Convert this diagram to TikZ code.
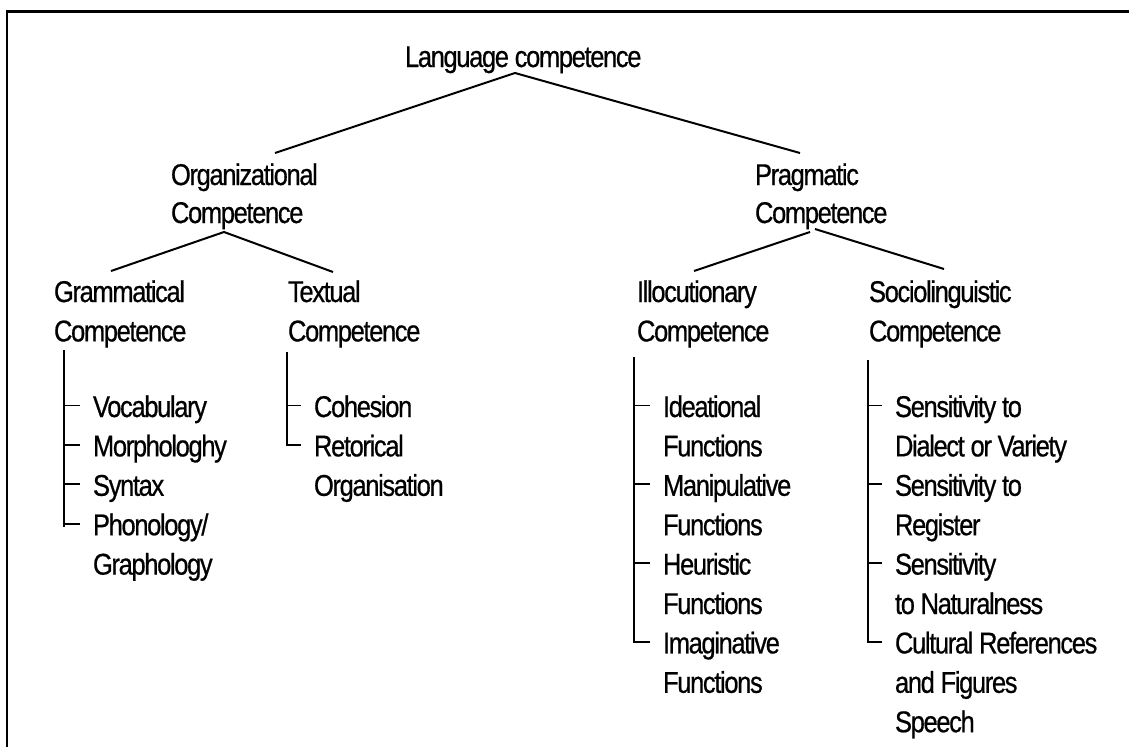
\documentclass[tikz,border=0pt]{standalone}
\usepackage{fontspec}
\setmainfont{Liberation Sans}[FakeStretch=0.85,LetterSpace=-4.5,FakeBold=0.6]
\begin{document}
\begin{tikzpicture}[x=1pt,y=-1pt,
  lbl/.style={anchor=base west, inner sep=0pt, outer sep=0pt, align=left, font=\fontsize{30}{39.4}\selectfont},
  hd/.style={lbl, font=\fontsize{30}{38}\selectfont},
  tree/.style={line width=2pt, black},
  brk/.style={line width=1.8pt, black},
  frame/.style={line width=2.2pt, black}]
\useasboundingbox (0,0) rectangle (1129,747);
\draw[frame] (7,747) -- (7,11.5) -- (1129,11.5);

% headings (anchor = baseline of the last line)
\node[lbl] (lang) at (405,67) {Language competence};
\node[hd] (org) at (171,223) {Organizational\\Competence};
\node[hd] (prag) at (755,223) {Pragmatic\\Competence};
\node[lbl] (gram) at (54,341.4) {Grammatical\\Competence};
\node[lbl] (text) at (288,341.4) {Textual\\Competence};
\node[lbl] (illo) at (637,341.4) {Illocutionary\\Competence};
\node[lbl] (socio) at (869,341.4) {Sociolinguistic\\Competence};

% tree connectors
\coordinate (langB) at (515,73);
\coordinate (orgT) at (275,153);
\coordinate (pragT) at (800,153);
\draw[tree] (orgT) -- (langB) -- (pragT);
\coordinate (orgB) at (224,232);
\coordinate (gramT) at (111,271);
\coordinate (textT) at (333,272);
\draw[tree] (gramT) -- (orgB) -- (textT);
\coordinate (pragBL) at (810,232);
\coordinate (pragBR) at (815,229);
\coordinate (illoT) at (694,271);
\coordinate (socioT) at (944,269);
\draw[tree] (illoT) -- (pragBL);
\draw[tree] (pragBR) -- (socioT);

% leaves (anchor = baseline of the last line)
\node[lbl] (voc) at (93,417) {Vocabulary};
\node[lbl] (mor) at (93,456.4) {Morphologhy};
\node[lbl] (syn) at (93,495.8) {Syntax};
\node[lbl] (pho) at (93,574.6) {Phonology/\\Graphology};

\node[lbl] (coh) at (314,417) {Cohesion};
\node[lbl] (ret) at (314,495.8) {Retorical\\Organisation};

\node[lbl] (ide) at (663,456.4) {Ideational\\Functions};
\node[lbl] (man) at (663,535.2) {Manipulative\\Functions};
\node[lbl] (heu) at (663,614) {Heuristic\\Functions};
\node[lbl] (ima) at (663,692.8) {Imaginative\\Functions};

\node[lbl] (sa) at (895,456.4) {Sensitivity to\\Dialect or Variety};
\node[lbl] (sb) at (895,535.2) {Sensitivity to\\Register};
\node[lbl] (sc) at (895,614) {Sensitivity\\to Naturalness};
\node[lbl] (sd) at (895,732.2) {Cultural References\\and Figures\\Speech};

% brackets: Grammatical
\draw[brk] ([shift={(10pt,-8.6pt)}]gram.base west) -- ([shift={(-29pt,47.6pt)}]pho.base west);
\foreach \n in {voc,mor,syn}
  \draw[brk] ([shift={(-29pt,11.5pt)}]\n.base west) -- ++(16,0);
\draw[brk] ([shift={(-29pt,50.9pt)}]pho.base west) -- ++(16,0);

% Textual
\draw[brk] ([shift={(-1pt,-10.6pt)}]text.base west) -- ([shift={(-27pt,50.9pt)}]ret.base west) -- ++(14,0);
\draw[brk] ([shift={(-27pt,11.5pt)}]coh.base west) -- ++(14,0);

% Illocutionary
\draw[brk] ([shift={(-3pt,-15.6pt)}]illo.base west) -- ([shift={(-29pt,50.9pt)}]ima.base west) -- ++(16,0);
\foreach \n in {ide,man,heu}
  \draw[brk] ([shift={(-29pt,50.9pt)}]\n.base west) -- ++(16,0);

% Sociolinguistic
\draw[brk] ([shift={(-1pt,-18.6pt)}]socio.base west) -- ([shift={(-27pt,90.3pt)}]sd.base west) -- ++(14,0);
\foreach \n in {sa,sb,sc}
  \draw[brk] ([shift={(-27pt,50.9pt)}]\n.base west) -- ++(14,0);
\end{tikzpicture}
\end{document}
